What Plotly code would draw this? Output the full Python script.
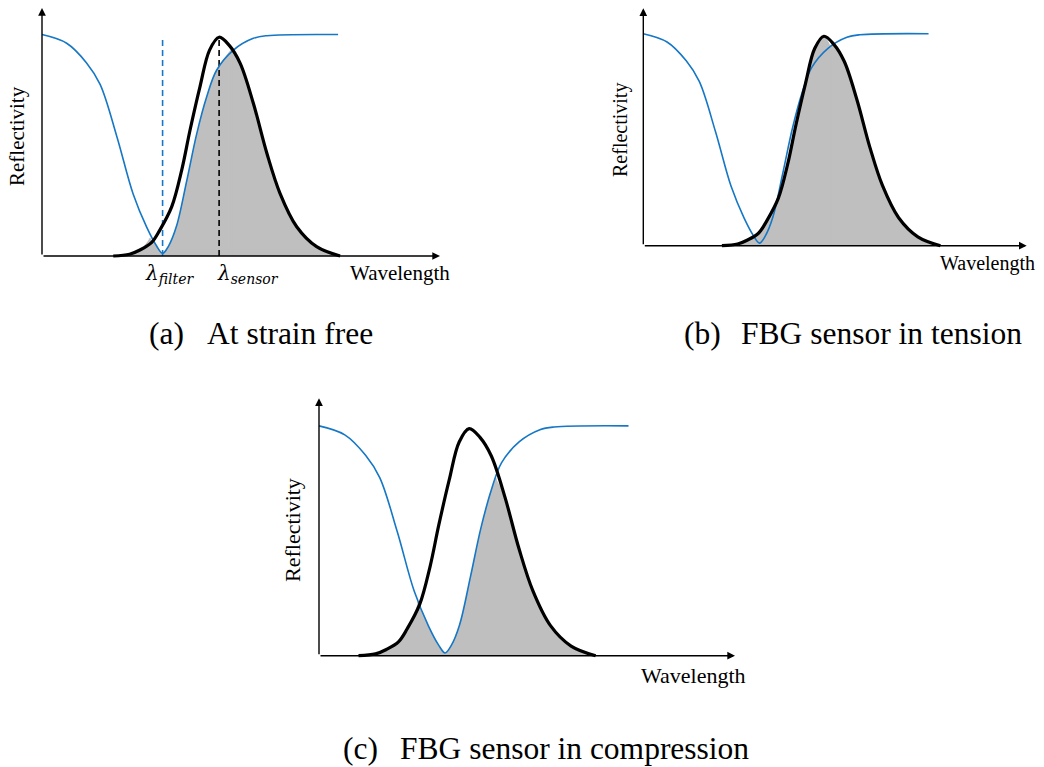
import numpy as np
import plotly.graph_objects as go

W, H = 1044, 767

# ---------------- data ----------------
# Filter (blue) reflectivity curve, same in all three panels
FILTER_X = [0, 6.2, 11.2, 14.6, 18.8, 22.9, 26.3, 28.8, 30.3, 31.8, 33.8, 36.4, 38.9, 41.4, 43.9, 48.1, 53.1, 56.5, 74.4]
FILTER_Y = [1.0, 0.961, 0.872, 0.775, 0.54, 0.28, 0.13, 0.045, 0.012, 0.045, 0.135, 0.343, 0.554, 0.72, 0.84, 0.93, 0.983, 0.995, 1.0]

# Sensor (black) reflection peak, as offsets from its peak wavelength
SENSOR_DX = [-26.6, -22.5, -19.9, -17.0, -14.9, -11.9, -9.4, -7.3, -4.8, -2.4, 0.0, 2.6, 5.3, 8.6, 12.0, 15.3, 19.5, 24.5, 30.4]
SENSOR_Y = [0.0, 0.008, 0.027, 0.06, 0.117, 0.223, 0.388, 0.569, 0.765, 0.93, 0.988, 0.95, 0.870, 0.690, 0.464, 0.283, 0.132, 0.042, 0.0]

PANEL_KEYS = ["a", "b", "c"]
SENSOR_PEAK = {"a": 44.5, "b": 47.1, "c": 36.1}
FILTER_DIP = 30.3
# points where the two curves cross (bounds of the shaded overlap)
CROSSINGS = {
    "a": [(27.1, 0.080), (47.7, 0.938)],
    "b": [(28.7, 0.040), (48.7, 0.947)],
    "c": [(23.9, 0.235), (42.5, 0.772)],
}
CAPTIONS = {
    "a": ("(a)", "At strain free"),
    "b": ("(b)", "FBG sensor in tension"),
    "c": ("(c)", "FBG sensor in compression"),
}
X_LABEL = "Wavelength"
Y_LABEL = "Reflectivity"

# ---------------- layout geometry (pixels) ----------------
# origin, x-arrow tip, y-arrow tip
GEOM = {
    "a": dict(ox=42.0, oy=256.0, xt=440.0, yt=8.0),
    "b": dict(ox=643.3, oy=245.7, xt=1026.7, yt=8.3),
    "c": dict(ox=319.0, oy=655.7, xt=735.0, yt=398.3),
}
X_TIP, Y_TIP = 100.0, 1.12
X_RANGE = [-4.0, 100.0]
Y_RANGE = [-0.06, 1.12]

BLUE = "#1577C5"
GRAY = "#BFBFBF"
SERIF = "'Liberation Serif', 'Times New Roman', Times, serif"
MATH = "'DejaVu Serif', serif"

fig = go.Figure()
layout = dict(width=W, height=H, margin=dict(l=0, r=0, t=0, b=0),
              paper_bgcolor="white", plot_bgcolor="white", showlegend=False)
annotations = []


def px(x):
    return x / W


def py(y):
    return 1 - y / H


for i, k in enumerate(PANEL_KEYS):
    g = GEOM[k]
    sx = (g["xt"] - g["ox"]) / X_TIP
    sy = (g["oy"] - g["yt"]) / Y_TIP
    xd = [px(g["ox"] + X_RANGE[0] * sx), px(g["ox"] + X_RANGE[1] * sx)]
    yd = [py(g["oy"] - Y_RANGE[0] * sy), py(g["oy"] - Y_RANGE[1] * sy)]
    sfx = "" if i == 0 else str(i + 1)
    xa, ya = "x" + sfx, "y" + sfx
    axis_common = dict(showgrid=False, zeroline=False, showticklabels=False,
                       showline=False, ticks="", fixedrange=True)
    layout["xaxis" + sfx] = dict(domain=xd, range=X_RANGE, anchor=ya, **axis_common)
    layout["yaxis" + sfx] = dict(domain=yd, range=Y_RANGE, anchor=xa, **axis_common)

    fx = np.array(FILTER_X, dtype=float)
    fy = np.array(FILTER_Y, dtype=float)
    kx = SENSOR_PEAK[k] + np.array(SENSOR_DX, dtype=float)
    ky = np.array(SENSOR_Y, dtype=float)

    # shaded overlap: below whichever curve is lower, split at crossings
    bounds = [(kx[0], ky[0])] + CROSSINGS[k] + [(kx[-1], ky[-1])]
    for (x0, y0), (x1, y1) in zip(bounds[:-1], bounds[1:]):
        xm = 0.5 * (x0 + x1)
        use_filter = np.interp(xm, fx, fy) < np.interp(xm, kx, ky)
        cx, cy = (fx, fy) if use_filter else (kx, ky)
        mask = (cx > x0 + 0.3) & (cx < x1 - 0.3)
        sx_ = [x0] + list(cx[mask]) + [x1]
        sy_ = [y0] + list(cy[mask]) + [y1]
        fig.add_trace(go.Scatter(x=sx_, y=sy_, mode="lines", xaxis=xa, yaxis=ya,
                                 line=dict(width=0, shape="spline", smoothing=1),
                                 fill="tozeroy", fillcolor=GRAY, hoverinfo="skip"))
    # cover the seams between shaded pieces
    for (xc, yc) in CROSSINGS[k]:
        fig.add_trace(go.Scatter(x=[xc, xc], y=[0, yc], mode="lines", xaxis=xa, yaxis=ya,
                                 line=dict(color=GRAY, width=2), hoverinfo="skip"))

    if k == "a":
        fig.add_trace(go.Scatter(x=[FILTER_DIP, FILTER_DIP], y=[0, 0.99], mode="lines",
                                 xaxis=xa, yaxis=ya,
                                 line=dict(color=BLUE, width=1.6, dash="6px,4px"), hoverinfo="skip"))
        fig.add_trace(go.Scatter(x=[SENSOR_PEAK[k], SENSOR_PEAK[k]], y=[0, 0.985], mode="lines",
                                 xaxis=xa, yaxis=ya,
                                 line=dict(color="black", width=1.6, dash="6px,4px"), hoverinfo="skip"))

    fig.add_trace(go.Scatter(x=fx, y=fy, mode="lines", xaxis=xa, yaxis=ya,
                             line=dict(color=BLUE, width=1.6, shape="spline", smoothing=1),
                             hoverinfo="skip"))
    fig.add_trace(go.Scatter(x=kx, y=ky, mode="lines", xaxis=xa, yaxis=ya,
                             line=dict(color="black", width=3.2, shape="spline", smoothing=1),
                             hoverinfo="skip"))

    # axis arrows
    for (tx, ty) in [(X_TIP, 0.0), (0.0, Y_TIP)]:
        annotations.append(dict(x=tx, y=ty, ax=0.0, ay=0.0, xref=xa, yref=ya,
                                axref=xa, ayref=ya, text="", showarrow=True,
                                arrowhead=2, arrowsize=1.1, arrowwidth=1.4,
                                arrowcolor="black", standoff=0, startstandoff=0))

# axis labels (pixel positions)
LABEL_POS = {
    "a": dict(wl=(400, 273, 21), rf=(17, 136, 21)),
    "b": dict(wl=(987, 263, 20), rf=(620, 130, 20)),
    "c": dict(wl=(693, 675, 22), rf=(292, 530, 22)),
}
for k in PANEL_KEYS:
    lp = LABEL_POS[k]
    x, y, s = lp["wl"]
    annotations.append(dict(x=px(x), y=py(y), xref="paper", yref="paper", text=X_LABEL,
                            showarrow=False, xanchor="center", yanchor="middle",
                            font=dict(family=SERIF, size=s, color="black")))
    x, y, s = lp["rf"]
    annotations.append(dict(x=px(x), y=py(y), xref="paper", yref="paper", text=Y_LABEL,
                            showarrow=False, xanchor="center", yanchor="middle", textangle=-90,
                            font=dict(family=SERIF, size=s, color="black")))

# wavelength markers in panel (a)
annotations.append(dict(x=px(169), y=py(274), xref="paper", yref="paper",
                        text="<i>λ</i><sub><i>filter</i></sub>", showarrow=False,
                        xanchor="center", yanchor="middle",
                        font=dict(family=MATH, size=20, color="black")))
annotations.append(dict(x=px(248), y=py(274), xref="paper", yref="paper",
                        text="<i>λ</i><sub><i>sensor</i></sub>", showarrow=False,
                        xanchor="center", yanchor="middle",
                        font=dict(family=MATH, size=20, color="black")))

# captions
CAP_POS = {"a": (147, 205, 333), "b": (682, 739, 333), "c": (341, 398, 748)}
for k in PANEL_KEYS:
    x1, x2, y = CAP_POS[k]
    tag, txt = CAPTIONS[k]
    annotations.append(dict(x=px(x1), y=py(y), xref="paper", yref="paper", text=tag,
                            showarrow=False, xanchor="left", yanchor="middle",
                            font=dict(family=SERIF, size=31.5, color="black")))
    annotations.append(dict(x=px(x2), y=py(y), xref="paper", yref="paper", text=txt,
                            showarrow=False, xanchor="left", yanchor="middle",
                            font=dict(family=SERIF, size=31.5, color="black")))

layout["annotations"] = annotations
fig.update_layout(**layout)
fig.write_html("out.html", config={"displayModeBar": False},
               post_script="document.body.style.margin='0';document.body.style.overflow='hidden';")
